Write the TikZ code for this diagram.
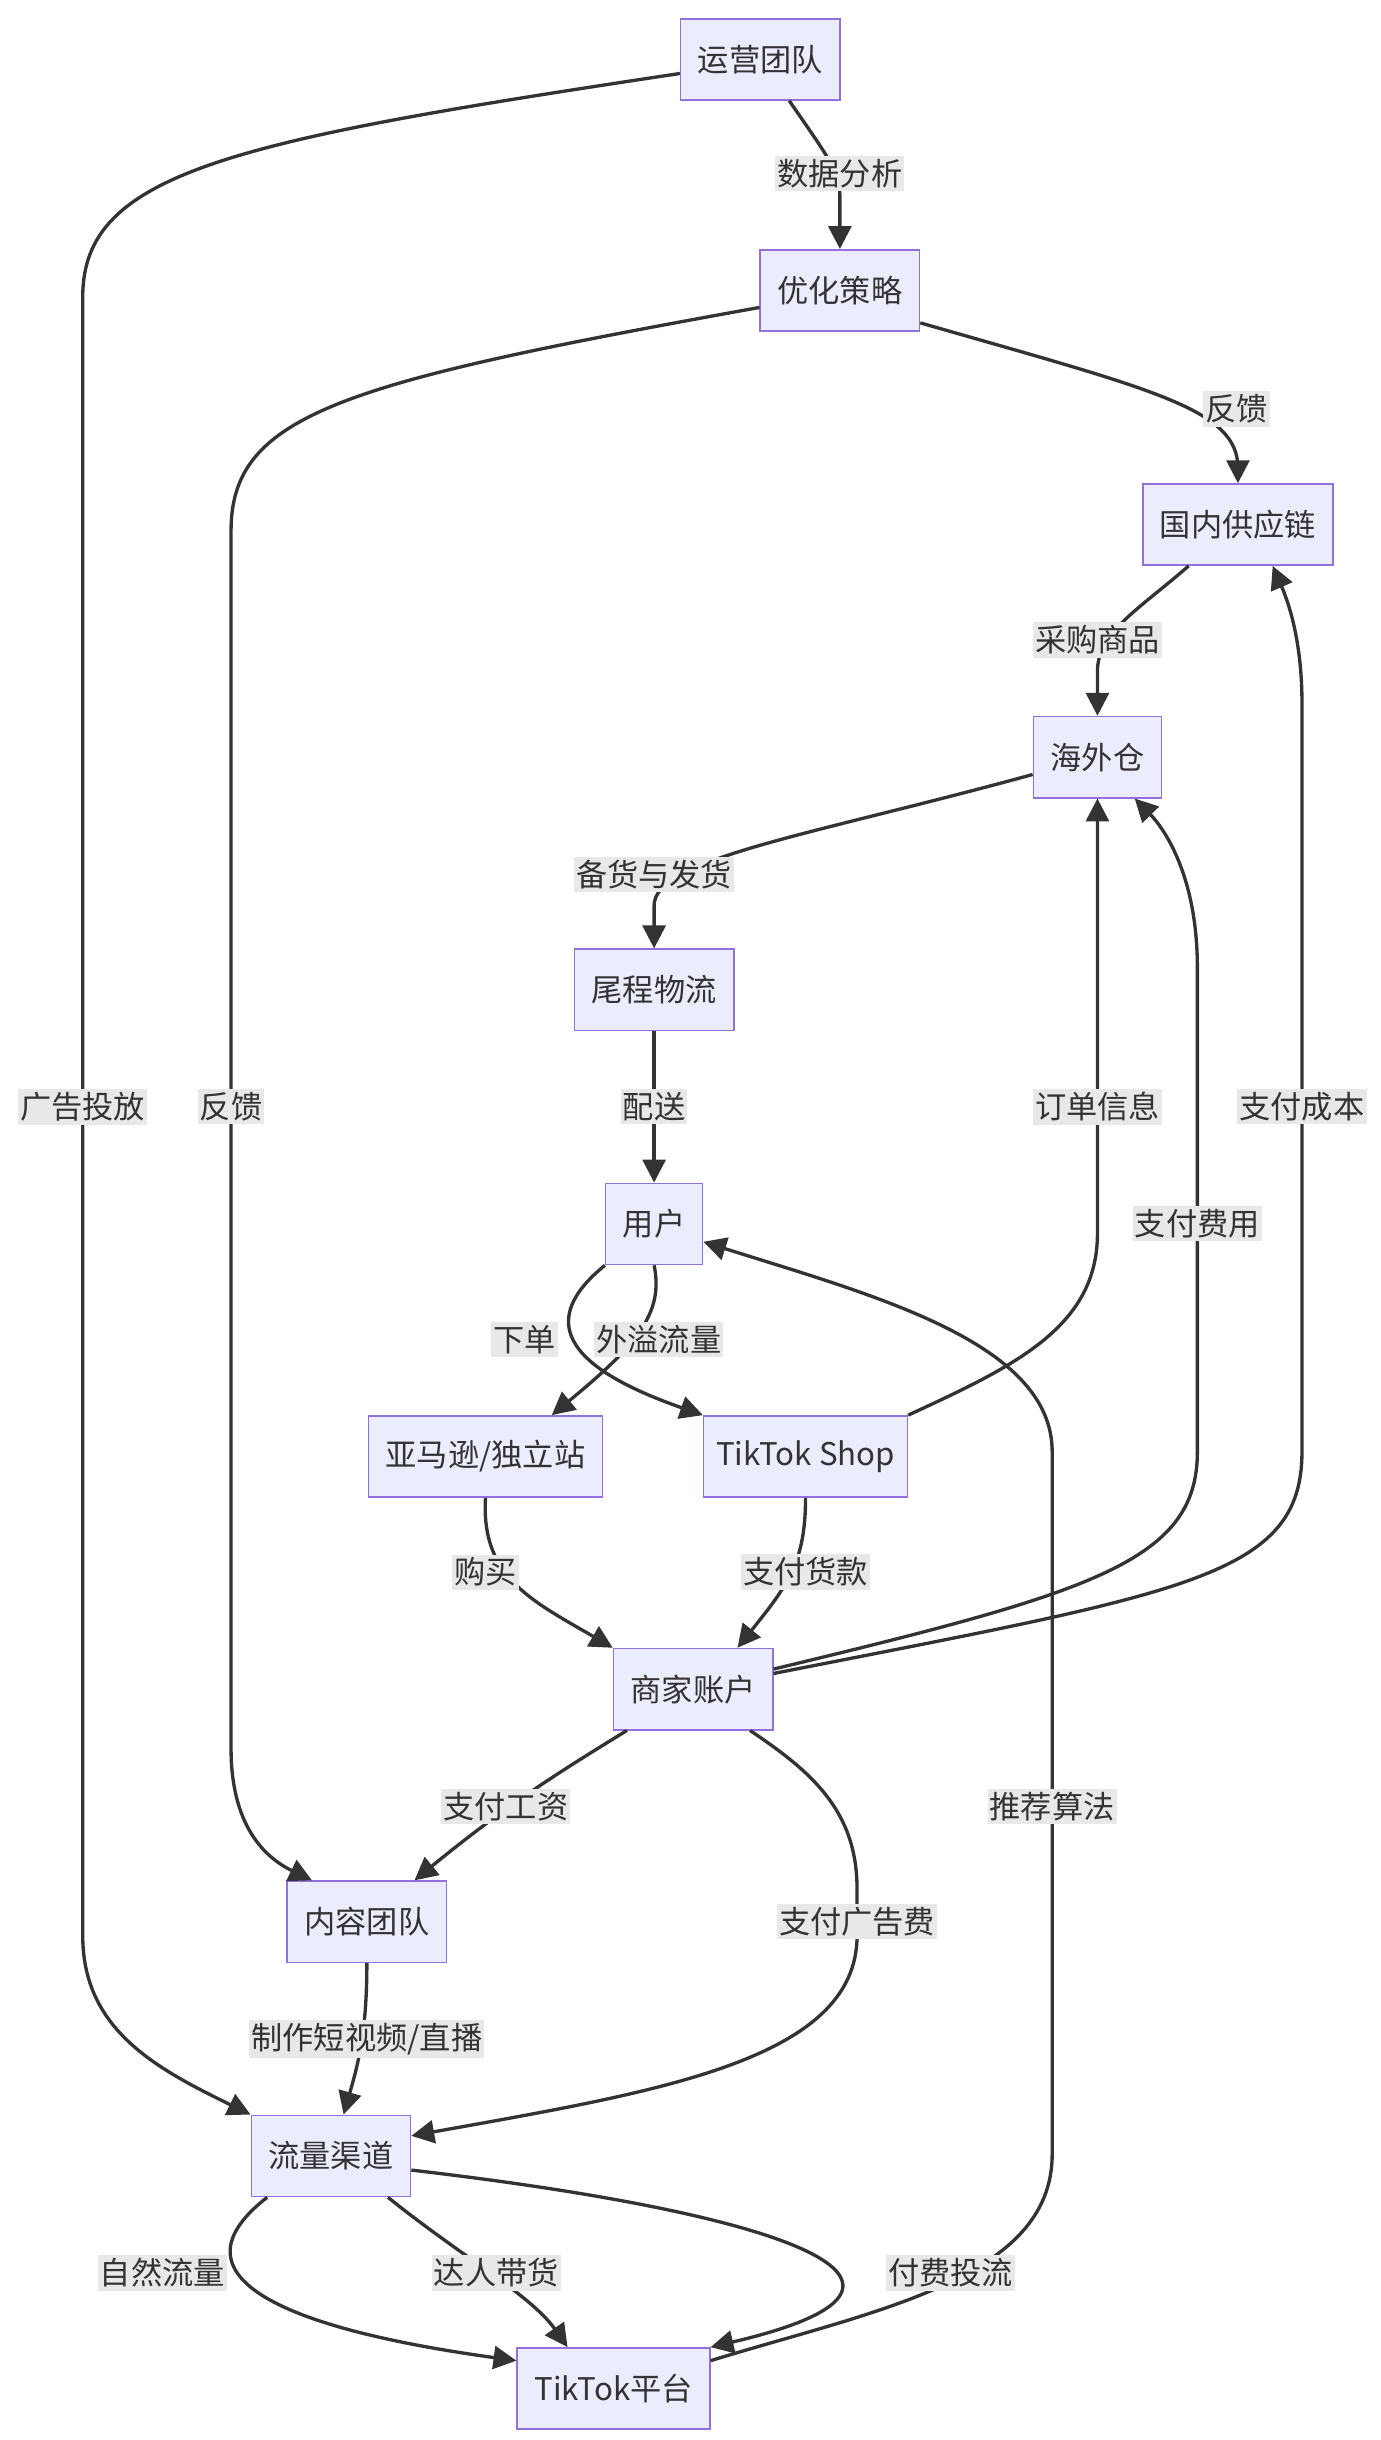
\documentclass[tikz,border=0pt]{standalone}
\usepackage{fontspec}
\setmainfont{Noto Sans CJK SC}
\usetikzlibrary{arrows.meta}
\definecolor{boxfill}{HTML}{ECECFF}
\definecolor{boxline}{HTML}{9370DB}
\definecolor{lblbg}{HTML}{E8E8E8}
\definecolor{ink}{HTML}{333333}

\begin{document}
\begin{tikzpicture}[x=0.75pt,y=-0.75pt,
    box/.style={draw=boxline,fill=boxfill,line width=0.75pt,rectangle,
      minimum height=39pt,inner xsep=8.25pt,text=ink,
      font=\fontsize{15pt}{18pt}\selectfont},
    lbl/.style={fill=lblbg,inner xsep=1pt,inner ysep=1.5pt,text=ink,
      font=\fontsize{15pt}{18pt}\selectfont},
    flow/.style={draw=ink,line width=1.6pt,-{Triangle[length=11pt,width=11pt]}}]
  \useasboundingbox (0,0) rectangle (884,1563);
				\node[box] (yy) at (487,38) {运营团队};
				\node[box] (yh) at (538,186) {优化策略};
				\node[box] (gn) at (793,336) {国内供应链};
				\node[box] (hw) at (703,485) {海外仓};
				\node[box] (wc) at (419,634) {尾程物流};
				\node[box] (yhu) at (419,784) {用户};
				\node[box] (ymx) at (311,933) {亚马逊/独立站};
				\node[box,inner xsep=6pt] (ts) at (516,933) {TikTok Shop};
				\node[box] (sj) at (444,1082) {商家账户};
				\node[box] (nr) at (235,1231) {内容团队};
				\node[box] (lq) at (212,1381) {流量渠道};
				\node[box] (tk) at (393,1530) {TikTok平台};
				% operation side
				\draw[flow] (yy.190) .. controls (150,90) and (53,110) .. (53,190) -- (53,1240) .. controls (53,1300) and (100,1325) .. (lq.north west);
				\draw[flow] (yy.-55) .. controls (530,100) and (538,110) .. (538,125) -- (yh.north);
				\draw[flow] (yh.192) .. controls (220,245) and (148,265) .. (148,340) -- (148,1120) .. controls (148,1170) and (170,1190) .. (nr.143);
				\draw[flow] (yh.-22) .. controls (740,250) and (793,262) .. (793,300) -- (gn.north);
				% goods
				\draw[flow] (gn.220) .. controls (730,390) and (703,405) .. (703,430) -- (hw.north);
				\draw[flow] (hw.195) .. controls (520,535) and (419,550) .. (419,580) -- (wc.north);
				\draw[flow] (wc) -- (yhu);
				\draw[flow] (yhu.south west) .. controls (345,845) and (360,875) .. (ts.north west);
				\draw[flow] (yhu.south) .. controls (425,840) and (410,860) .. (ymx.32);
				\draw[flow] (ts.north east) .. controls (650,875) and (703,850) .. (703,790) -- (hw.south);
				% money
				\draw[flow] (ymx.south) .. controls (308,1010) and (340,1025) .. (sj.north west);
				\draw[flow] (ts.south) .. controls (516,1000) and (505,1015) .. (sj.43);
				\draw[flow] (sj.14) .. controls (700,1020) and (767,1000) .. (767,930) -- (767,620) .. controls (767,560) and (745,530) .. (hw.-48);
				\draw[flow] (sj.11) .. controls (760,1020) and (834,1010) .. (834,930) -- (834,450) .. controls (834,410) and (825,385) .. (gn.-50);
				\draw[flow] (sj.212) .. controls (350,1140) and (320,1160) .. (nr.41);
				\draw[flow] (sj.-36) .. controls (520,1135) and (549,1160) .. (549,1210) -- (549,1240) .. controls (549,1320) and (420,1340) .. (lq.14);
				\draw[flow] (nr.south) .. controls (235,1300) and (230,1320) .. (lq.73);
				% traffic
				\draw[flow] (lq.213) .. controls (110,1455) and (170,1490) .. (tk.164);
				\draw[flow] (lq.-36) .. controls (295,1445) and (340,1470) .. (tk.138);
				\draw[flow] (lq.-10) .. controls (520,1420) and (620,1465) .. (tk.north east);
				\draw[flow] (tk.16) .. controls (560,1480) and (674,1460) .. (674,1380) -- (674,930) .. controls (674,860) and (560,830) .. (yhu.-20);
				% edge labels
				\node[lbl] (l1) at (538,111) {数据分析};
				\node[lbl] (l2) at (792,262) {反馈};
				\node[lbl] (l3) at (148,709) {反馈};
				\node[lbl] (l4) at (53,709) {广告投放};
				\node[lbl] (l5) at (703,410) {采购商品};
				\node[lbl] (l6) at (419,560) {备货与发货};
				\node[lbl] (l7) at (419,709) {配送};
				\node[lbl] (l8) at (703,709) {订单信息};
				\node[lbl] (l9) at (834,709) {支付成本};
				\node[lbl] (l10) at (767,784) {支付费用};
				\node[lbl] (l11) at (336,858) {下单};
				\node[lbl] (l12) at (422,858) {外溢流量};
				\node[lbl] (l13) at (311,1007) {购买};
				\node[lbl] (l14) at (516,1007) {支付货款};
				\node[lbl] (l15) at (324,1157) {支付工资};
				\node[lbl] (l16) at (674,1157) {推荐算法};
				\node[lbl] (l17) at (549,1231) {支付广告费};
				\node[lbl] (l18) at (235,1306) {制作短视频/直播};
				\node[lbl] (l19) at (104,1456) {自然流量};
				\node[lbl] (l20) at (318,1456) {达人带货};
				\node[lbl] (l21) at (609,1456) {付费投流};
			\end{tikzpicture}
\end{document}
